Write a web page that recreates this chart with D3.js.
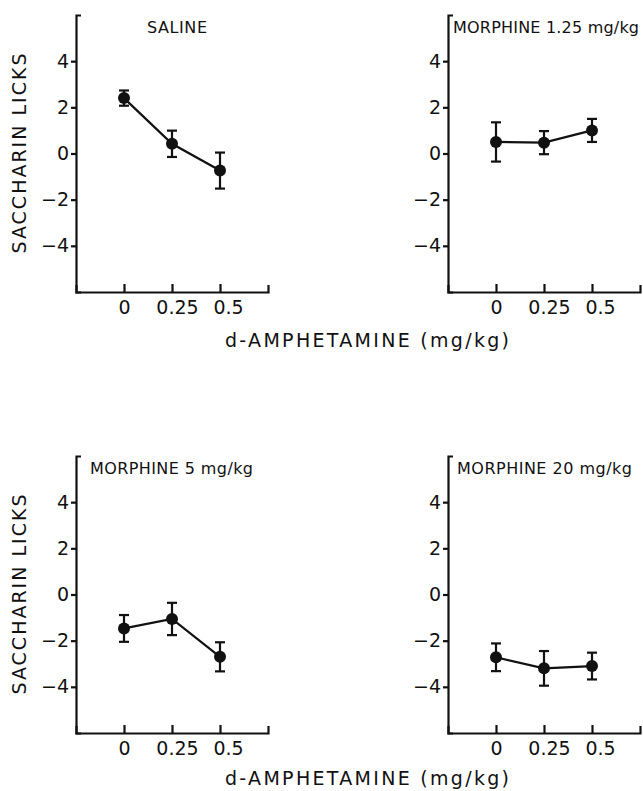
<!DOCTYPE html>
<html>
<head>
<meta charset="utf-8">
<script src="https://cdn.jsdelivr.net/npm/d3@7"></script>
<style>
  body { margin: 0; background: #fff; }
  svg text { font-family: "DejaVu Sans", sans-serif; fill: #111; }
</style>
</head>
<body>
<div id="chart"></div>
<script>
// d-amphetamine doses on the x axis
var doses = [0, 0.25, 0.5];
var panelTitles = ["SALINE", "MORPHINE 1.25 mg/kg", "MORPHINE 5 mg/kg", "MORPHINE 20 mg/kg"];
// mean saccharin licks and error bar half-widths, one row per panel
var meanLicks = [
  [2.4, 0.42, -0.74],
  [0.5, 0.47, 1.0],
  [-1.47, -1.06, -2.7],
  [-2.72, -3.2, -3.1]
];
var errLicks = [
  [0.33, 0.57, 0.78],
  [0.85, 0.5, 0.5],
  [0.58, 0.7, 0.63],
  [0.6, 0.75, 0.58]
];
var yTicks = [-4, -2, 0, 2, 4];
var xTicks = [0, 0.25, 0.5];
var yLabel = "SACCHARIN LICKS";
var xLabel = "d-AMPHETAMINE (mg/kg)";

var W = 643, H = 791;
var plotW = 192, plotH = 277;
// where each panel's axis corner sits, and how its title is placed
var layout = [
  {x: 76,  y: 15,  titleX: 101, anchor: "middle", len: 60},
  {x: 448, y: 15,  titleX: 5,   anchor: "start",  len: 186},
  {x: 76,  y: 456, titleX: 14,  anchor: "start",  len: 163},
  {x: 448, y: 456, titleX: 9,   anchor: "start",  len: 175}
];
// the printed x labels sit a little right of their ticks
var xLabelShift = [0, 5, 8];

var svg = d3.select("#chart").append("svg")
  .attr("width", W).attr("height", H);
svg.append("rect").attr("width", W).attr("height", H).attr("fill", "#fff");

var x = d3.scaleLinear().domain([-0.25, 0.75]).range([0, plotW]);
var y = d3.scaleLinear().domain([-6, 6]).range([plotH, 0]);

var line = d3.line()
  .x(function(d){ return x(d[0]); })
  .y(function(d){ return y(d[1]); });

panelTitles.forEach(function(title, i){
  var L = layout[i];
  var g = svg.append("g").attr("transform", "translate(" + L.x + "," + L.y + ")");

  // y axis, outer ticks point into the plot to make the top stub
  var ya = g.append("g")
    .call(d3.axisLeft(y).tickValues(yTicks).tickSizeInner(5).tickSizeOuter(-5).tickPadding(2)
      .tickFormat(function(d){ return d < 0 ? "\u2212" + Math.abs(d) : d; }));
  // x axis with ticks pointing up
  var xa = g.append("g").attr("transform", "translate(0," + plotH + ")")
    .call(d3.axisBottom(x).tickValues(xTicks).tickSizeInner(-8).tickSizeOuter(-7).tickPadding(9)
      .tickFormat(function(d){ return String(d); }));

  [ya, xa].forEach(function(a){
    a.selectAll("path, line").attr("stroke", "#111").attr("stroke-width", 2.2);
    a.selectAll("text").style("font-size", "19px").attr("fill", "#111");
  });
  xa.selectAll(".tick text").attr("dx", function(d, j){ return xLabelShift[j]; });

  g.append("text")
    .attr("x", L.titleX).attr("y", 18)
    .attr("text-anchor", L.anchor)
    .attr("textLength", L.len).attr("lengthAdjust", "spacing")
    .style("font-size", "16px")
    .text(title);

  var pts = doses.map(function(d, j){ return [d, meanLicks[i][j], errLicks[i][j]]; });

  g.append("path").datum(pts)
    .attr("d", line)
    .attr("fill", "none").attr("stroke", "#111").attr("stroke-width", 2.2);

  var eb = g.selectAll(".eb").data(pts).enter().append("g").attr("class", "eb");
  eb.append("line")
    .attr("x1", function(d){ return x(d[0]); }).attr("x2", function(d){ return x(d[0]); })
    .attr("y1", function(d){ return y(d[1] + d[2]); }).attr("y2", function(d){ return y(d[1] - d[2]); })
    .attr("stroke", "#111").attr("stroke-width", 2.2);
  [1, -1].forEach(function(s){
    eb.append("line")
      .attr("x1", function(d){ return x(d[0]) - 5; }).attr("x2", function(d){ return x(d[0]) + 5; })
      .attr("y1", function(d){ return y(d[1] + s * d[2]); }).attr("y2", function(d){ return y(d[1] + s * d[2]); })
      .attr("stroke", "#111").attr("stroke-width", 2.2);
  });
  eb.append("circle")
    .attr("cx", function(d){ return x(d[0]); })
    .attr("cy", function(d){ return y(d[1]); })
    .attr("r", 6).attr("fill", "#111");

  // y label only on the left column
  if (i % 2 === 0) {
    g.append("text")
      .attr("transform", "translate(-50," + y(0) + ") rotate(-90)")
      .attr("text-anchor", "middle")
      .attr("textLength", 200).attr("lengthAdjust", "spacing")
      .style("font-size", "19px")
      .text(yLabel);
  }
});

// x label under each row
[347, 785].forEach(function(by){
  svg.append("text")
    .attr("x", 367).attr("y", by)
    .attr("text-anchor", "middle")
    .attr("textLength", 284).attr("lengthAdjust", "spacing")
    .style("font-size", "19px")
    .text(xLabel);
});
</script>
</body>
</html>
